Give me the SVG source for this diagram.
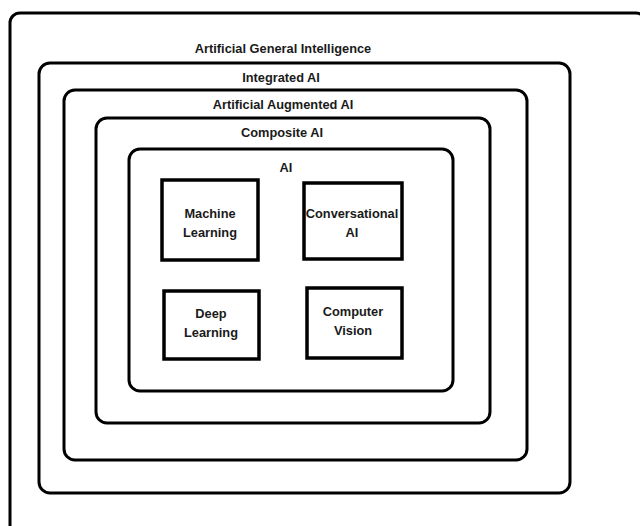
<svg xmlns="http://www.w3.org/2000/svg" width="640" height="526" viewBox="0 0 640 526">
  <style>
    .layer { fill: none; stroke: #000; stroke-width: 3; }
    .box { fill: #fff; stroke: #000; stroke-width: 3.5; }
    .lbl { font-family: "Liberation Sans", Arial, sans-serif; font-weight: bold; font-size: 12.8px; fill: #1a1a1a; text-anchor: middle; }
  </style>
  <rect width="640" height="526" fill="#fff"/>

  <!-- nested capability layers, outermost first -->
  <g id="agi">
    <rect class="layer" x="10" y="13" width="636" height="530" rx="10"/>
    <text class="lbl" x="283" y="53">Artificial General Intelligence</text>
  </g>
  <g id="integrated-ai">
    <rect class="layer" x="39" y="63" width="531" height="430" rx="11"/>
    <text class="lbl" x="281" y="82">Integrated AI</text>
  </g>
  <g id="augmented-ai">
    <rect class="layer" x="64" y="90" width="463" height="370" rx="11"/>
    <text class="lbl" x="283" y="109">Artificial Augmented AI</text>
  </g>
  <g id="composite-ai">
    <rect class="layer" x="96" y="118" width="394" height="305" rx="11"/>
    <text class="lbl" x="282" y="137">Composite AI</text>
  </g>
  <g id="ai">
    <rect class="layer" x="129" y="149" width="324" height="242" rx="11"/>
    <text class="lbl" x="286" y="172">AI</text>
  </g>

  <!-- AI sub-fields -->
  <g id="machine-learning">
    <rect class="box" x="162" y="180" width="96" height="80"/>
    <text class="lbl" x="210" y="218">Machine</text>
    <text class="lbl" x="210" y="237">Learning</text>
  </g>
  <g id="conversational-ai">
    <rect class="box" x="304" y="183" width="98" height="76"/>
    <text class="lbl" x="352" y="218">Conversational</text>
    <text class="lbl" x="352" y="237">AI</text>
  </g>
  <g id="deep-learning">
    <rect class="box" x="164" y="291" width="95" height="68"/>
    <text class="lbl" x="211" y="318">Deep</text>
    <text class="lbl" x="211" y="337">Learning</text>
  </g>
  <g id="computer-vision">
    <rect class="box" x="307" y="288" width="95" height="70"/>
    <text class="lbl" x="353" y="316">Computer</text>
    <text class="lbl" x="353" y="335">Vision</text>
  </g>

  <g id="connectors"/>
</svg>
